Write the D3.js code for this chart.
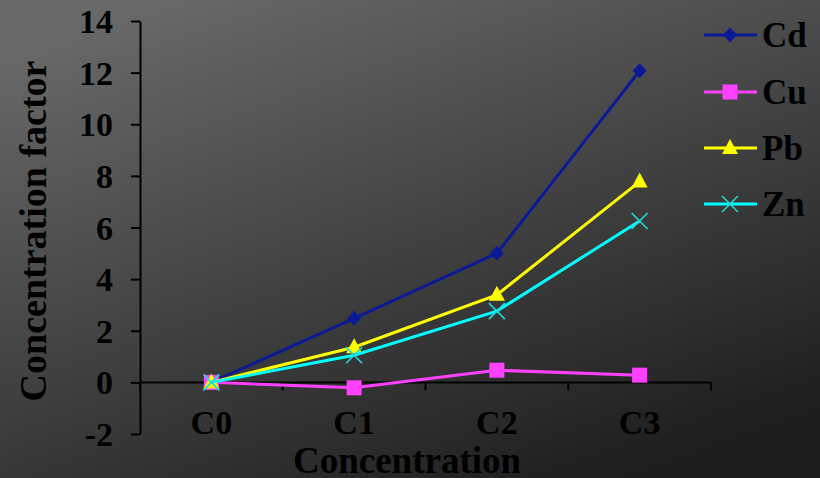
<!DOCTYPE html>
<html>
<head>
<meta charset="utf-8">
<script src="https://cdn.jsdelivr.net/npm/d3@7"></script>
<style>
  html, body { margin: 0; padding: 0; background: #333; }
  svg { display: block; }
  text { font-family: "Liberation Serif", "Times New Roman", serif; font-weight: bold; fill: #000; }
</style>
</head>
<body>
<svg id="chart" width="820" height="478"></svg>
<script>
// Concentration levels on the x axis
const categories = ["C0", "C1", "C2", "C3"];

// Concentration factor per metal
const cdValues = [0, 2.48, 5.0, 12.07];
const cuValues = [0, -0.21, 0.47, 0.28];
const pbValues = [0, 1.36, 3.39, 7.78];
const znValues = [0, 1.05, 2.76, 6.25];

const yTicks = [-2, 0, 2, 4, 6, 8, 10, 12, 14];

const seriesNames = ["Cd", "Cu", "Pb", "Zn"];
const seriesValues = [cdValues, cuValues, pbValues, znValues];
const seriesColors = ["#0a1a96", "#ff40ff", "#ffff00", "#00ffff"];
const markerColors = ["#0a1a96", "#ff40ff", "#ffff00", "#20d8d8"];
const markerTypes = ["diamond", "square", "triangle", "cross"];

const svg = d3.select("#chart");
const W = 820, H = 478;

// Background shading
const defs = svg.append("defs");
const grad = defs.append("linearGradient")
  .attr("id", "bg")
  .attr("x1", "0.2").attr("y1", "0")
  .attr("x2", "0.8").attr("y2", "1");
grad.append("stop").attr("offset", "0").attr("stop-color", "#686868");
grad.append("stop").attr("offset", "1").attr("stop-color", "#1c1c1c");
svg.append("rect").attr("width", W).attr("height", H).attr("fill", "url(#bg)");

const x = d3.scaleBand().domain(categories).range([140, 711]);
const y = d3.scaleLinear().domain([-2, 14]).range([434, 21]);
const cx = c => x(c) + x.bandwidth() / 2;

// Y axis
const yAxis = d3.axisLeft(y).tickValues(yTicks).tickSize(9).tickSizeOuter(0).tickPadding(18)
  .tickFormat(d => String(d));
const gy = svg.append("g").attr("transform", "translate(140,0)").call(yAxis);
gy.select(".domain").attr("stroke", "#000").attr("stroke-width", 2);
gy.selectAll(".tick line").attr("stroke", "#000").attr("stroke-width", 2);
gy.selectAll(".tick text")
  .attr("font-family", "Liberation Serif")
  .attr("font-weight", "bold")
  .attr("font-size", 34)
  .attr("fill", "#000")
  .attr("dy", "0.34em");

// X axis along zero, with ticks on category boundaries
const gx = svg.append("g");
gx.append("line")
  .attr("x1", 140).attr("x2", 711)
  .attr("y1", y(0)).attr("y2", y(0))
  .attr("stroke", "#000").attr("stroke-width", 2);
const boundaries = categories.map(c => x(c)).concat([x.range()[1]]);
gx.selectAll("line.tk").data(boundaries).join("line")
  .attr("class", "tk")
  .attr("x1", d => d).attr("x2", d => d)
  .attr("y1", y(0)).attr("y2", y(0) + 8)
  .attr("stroke", "#000").attr("stroke-width", 2);
gx.selectAll("text.cat").data(categories).join("text")
  .attr("class", "cat")
  .attr("x", d => cx(d))
  .attr("y", 434)
  .attr("text-anchor", "middle")
  .attr("font-size", 34)
  .text(d => d);

// Axis titles
svg.append("text")
  .attr("x", 407).attr("y", 473)
  .attr("text-anchor", "middle")
  .attr("font-size", 37)
  .text("Concentration");
svg.append("text")
  .attr("transform", "translate(46,231) rotate(-90)")
  .attr("text-anchor", "middle")
  .attr("font-size", 38)
  .text("Concentration factor");

// Marker drawing
function drawMarker(g, type, color, px, py) {
  if (type === "diamond") {
    g.append("path")
      .attr("d", `M${px},${py - 7.5}L${px + 7},${py}L${px},${py + 7.5}L${px - 7},${py}Z`)
      .attr("fill", color);
  } else if (type === "square") {
    g.append("rect")
      .attr("x", px - 7.5).attr("y", py - 7.5)
      .attr("width", 15).attr("height", 15)
      .attr("fill", color);
  } else if (type === "triangle") {
    g.append("path")
      .attr("d", `M${px},${py - 9}L${px + 8},${py + 6}L${px - 8},${py + 6}Z`)
      .attr("fill", color);
  } else {
    g.append("path")
      .attr("d", `M${px - 8},${py - 8}L${px + 8},${py + 8}M${px - 8},${py + 8}L${px + 8},${py - 8}`)
      .attr("stroke", color).attr("stroke-width", 1.6).attr("fill", "none");
  }
}

const line = d3.line().x((d, i) => cx(categories[i])).y(d => y(d));

seriesValues.forEach((vals, k) => {
  const g = svg.append("g");
  g.append("path")
    .attr("d", line(vals))
    .attr("fill", "none")
    .attr("stroke", seriesColors[k])
    .attr("stroke-width", 3);
  vals.forEach((v, i) => drawMarker(g, markerTypes[k], markerColors[k], cx(categories[i]), y(v)));
});

// Legend
const legendY = [35, 92, 148, 204];
seriesNames.forEach((name, k) => {
  const g = svg.append("g");
  g.append("line")
    .attr("x1", 704).attr("x2", 757)
    .attr("y1", legendY[k]).attr("y2", legendY[k])
    .attr("stroke", seriesColors[k]).attr("stroke-width", 3);
  drawMarker(g, markerTypes[k], markerColors[k], 730, legendY[k]);
  g.append("text")
    .attr("x", 762).attr("y", legendY[k])
    .attr("dy", "0.35em")
    .attr("font-size", 35)
    .text(name);
});
</script>
</body>
</html>
